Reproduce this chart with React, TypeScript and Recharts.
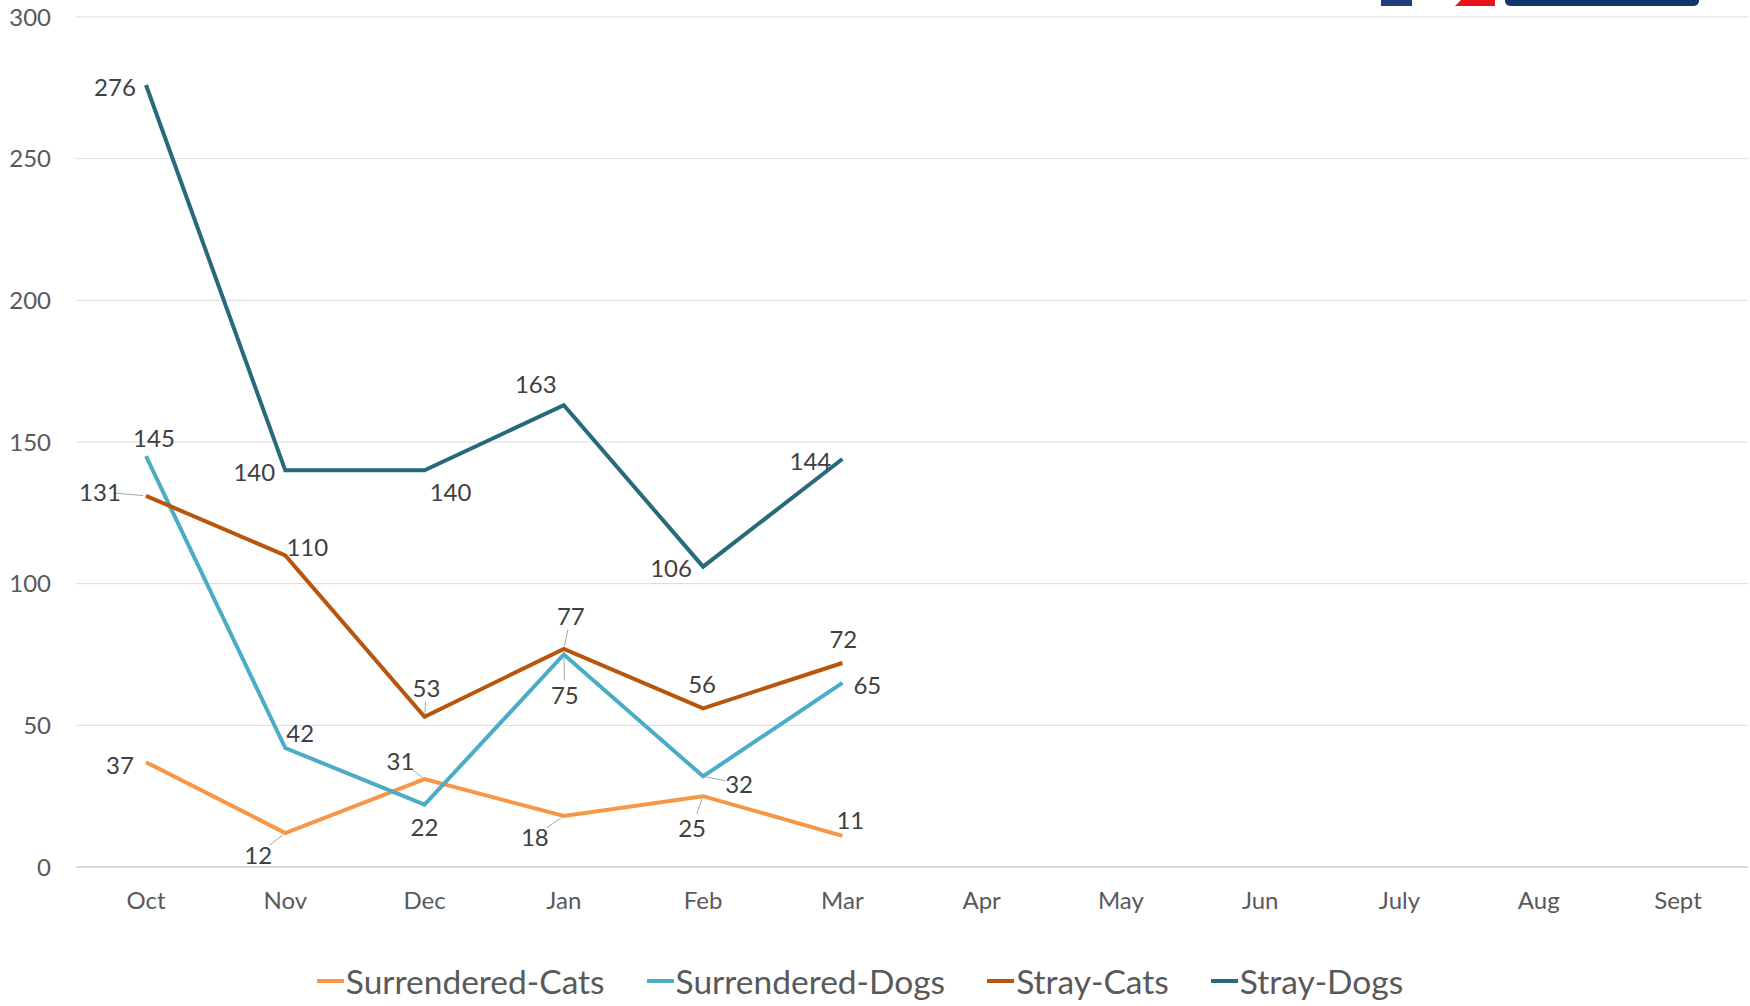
import React from 'react';
import { LineChart, Line, XAxis, YAxis, CartesianGrid, Legend } from 'recharts';

const months = ['Oct', 'Nov', 'Dec', 'Jan', 'Feb', 'Mar', 'Apr', 'May', 'Jun', 'July', 'Aug', 'Sept'];
const surrenderedCats = [37, 12, 31, 18, 25, 11, null, null, null, null, null, null];
const surrenderedDogs = [145, 42, 22, 75, 32, 65, null, null, null, null, null, null];
const strayCats = [131, 110, 53, 77, 56, 72, null, null, null, null, null, null];
const strayDogs = [276, 140, 140, 163, 106, 144, null, null, null, null, null, null];
const yTicks = [0, 50, 100, 150, 200, 250, 300];

const seriesNames = ['Surrendered-Cats', 'Surrendered-Dogs', 'Stray-Cats', 'Stray-Dogs'];
const seriesColors = ['#F79646', '#4BACC6', '#B8560E', '#276A7A'];

// label placement (offset from point), kept apart from data
const offSurrCats = [[-26, 2], [-27, 21], [-24, -19], [-29, 20], [-11, 31], [8, -16]];
const offSurrDogs = [[8, -19], [15, -16], [0, 22], [1, 40], [36, 7], [25, 2]];
const offStrayCats = [[-46, -4], [22, -9], [2, -29], [7, -33], [-1, -25], [1, -25]];
const offStrayDogs = [[-31, 1], [-31, 1], [26, 21], [-28, -22], [-32, 1], [-32, 1]];
const leadSurrCats = [false, true, true, true, true, false];
const leadSurrDogs = [false, false, false, true, true, false];
const leadStrayCats = [true, false, true, true, false, false];
const leadStrayDogs = [false, false, false, false, false, false];

const data = months.map((m, i) => ({
  month: m,
  sc: surrenderedCats[i],
  sd: surrenderedDogs[i],
  tc: strayCats[i],
  td: strayDogs[i],
}));

const FONT = 'Lato, "Open Sans", sans-serif';

function makeLabel(offs: number[][], leads: boolean[]) {
  return (props: any) => {
    const { x, y, value, index } = props;
    if (value === null || value === undefined || x == null || y == null) return null;
    const o = offs[index] || [0, -20];
    const lx = x + o[0];
    const ly = y + o[1];
    const lead = leads[index];
    let line = null;
    if (lead) {
      const dist = Math.sqrt(o[0] * o[0] + o[1] * o[1]);
      const ux = o[0] / dist;
      const uy = o[1] / dist;
      const start = 3;
      const end = dist - 14;
      line = (
        <line
          x1={x + ux * start}
          y1={y + uy * start}
          x2={x + ux * end}
          y2={y + uy * end}
          stroke="#A6A6A6"
          strokeWidth={1}
        />
      );
    }
    return (
      <g key={`lbl-${index}`}>
        {line}
        <text
          x={lx}
          y={ly}
          textAnchor="middle"
          dominantBaseline="central"
          fill="#404040"
          fontSize={24}
          fontFamily={FONT}
        >
          {value}
        </text>
      </g>
    );
  };
}

const renderLegend = () => (
  <div
    style={{
      display: 'flex',
      justifyContent: 'center',
      alignItems: 'center',
      fontFamily: FONT,
      fontSize: 33.5,
      lineHeight: '42px',
      height: 42,
      color: '#595959',
      gap: 42,
    }}
  >
    {seriesNames.map((n, i) => (
      <div key={n} style={{ display: 'flex', alignItems: 'center' }}>
        <div style={{ width: 27, height: 4, background: seriesColors[i], marginRight: 2 }} />
        <span>{n}</span>
      </div>
    ))}
  </div>
);

export default function App() {
  return (
    <div style={{ position: 'absolute', left: 0, top: 0, width: 1750, height: 1006, background: '#fff', overflow: 'hidden' }}>
      <div style={{ position: 'absolute', left: 1381, top: 0, width: 31, height: 6, background: '#1F3D7A' }} />
      <div style={{ position: 'absolute', left: 1455, top: 0, width: 40, height: 6, background: '#E8141B', clipPath: 'polygon(15% 0, 100% 0, 100% 100%, 0 100%)' }} />
      <div style={{ position: 'absolute', left: 1505, top: -6, width: 194, height: 12, background: '#12356E', borderRadius: 5 }} />
      <LineChart
        width={1750}
        height={1006}
        data={data}
        margin={{ top: 17, right: 2, left: 0, bottom: 38 }}
      >
        <CartesianGrid vertical={false} stroke="#D9D9D9" strokeWidth={1} />
        <XAxis
          dataKey="month"
          axisLine={{ stroke: '#D9D9D9', strokeWidth: 2 }}
          tickLine={false}
          tickSize={0}
          tickMargin={25}
          height={59}
          interval={0}
          padding={{ left: 70, right: 70 }}
          tick={{ fill: '#595959', fontSize: 24, fontFamily: FONT }}
        />
        <YAxis
          domain={[0, 300]}
          ticks={yTicks}
          axisLine={false}
          tickLine={false}
          tickSize={0}
          tickMargin={25}
          width={76}
          interval={0}
          tick={{ fill: '#595959', fontSize: 24, fontFamily: FONT }}
        />
        <Legend
          verticalAlign="bottom"
          content={renderLegend}
          wrapperStyle={{ left: 0, width: 1720, top: 960, height: 42 }}
        />
        <Line
          dataKey="sc"
          name={seriesNames[0]}
          stroke={seriesColors[0]}
          strokeWidth={4}
          dot={false}
          isAnimationActive={false}
          label={makeLabel(offSurrCats, leadSurrCats)}
        />
        <Line
          dataKey="sd"
          name={seriesNames[1]}
          stroke={seriesColors[1]}
          strokeWidth={4}
          dot={false}
          isAnimationActive={false}
          label={makeLabel(offSurrDogs, leadSurrDogs)}
        />
        <Line
          dataKey="tc"
          name={seriesNames[2]}
          stroke={seriesColors[2]}
          strokeWidth={4}
          dot={false}
          isAnimationActive={false}
          label={makeLabel(offStrayCats, leadStrayCats)}
        />
        <Line
          dataKey="td"
          name={seriesNames[3]}
          stroke={seriesColors[3]}
          strokeWidth={4}
          dot={false}
          isAnimationActive={false}
          label={makeLabel(offStrayDogs, leadStrayDogs)}
        />
      </LineChart>
    </div>
  );
}
